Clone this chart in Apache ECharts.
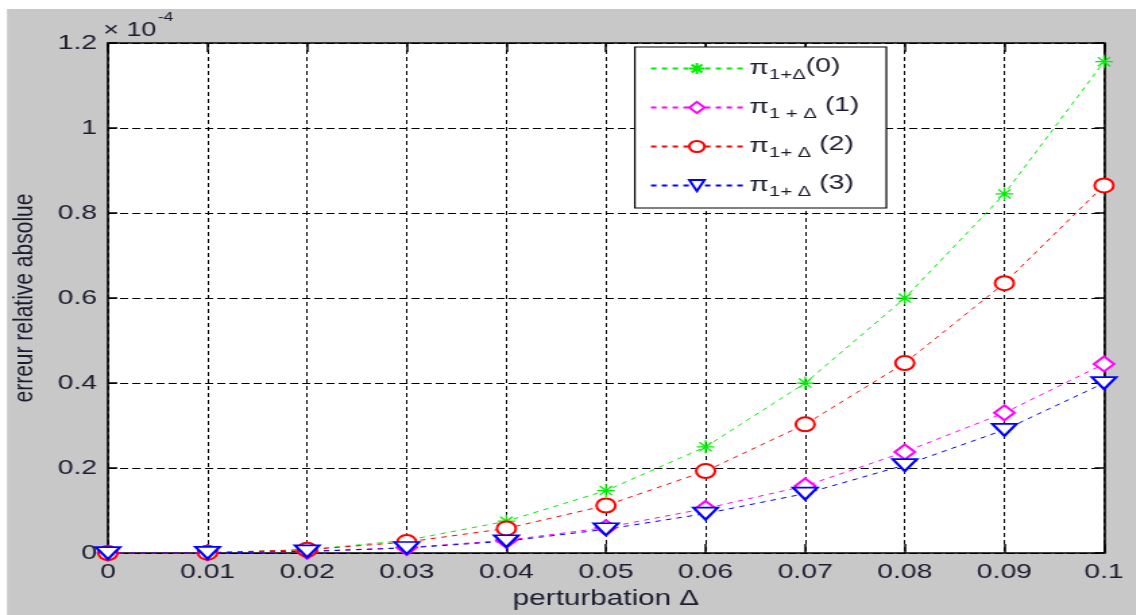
<!DOCTYPE html>
<html>
<head>
<meta charset="utf-8">
<script src="https://cdn.jsdelivr.net/npm/echarts@6/dist/echarts.min.js"></script>
<style>
html,body{margin:0;padding:0;background:#fff;overflow:hidden;width:1136px;height:615px;}
#wrap{width:1136px;height:615px;overflow:hidden;position:relative;}
#chart{width:842px;height:615px;transform:scaleX(1.349);transform-origin:0 0;position:absolute;left:0;top:0;}
</style>
</head>
<body>
<div id="wrap"><div id="chart"></div></div>
<script>
// Data (y values in units of 1e-4)
const xValues = [0, 0.01, 0.02, 0.03, 0.04, 0.05, 0.06, 0.07, 0.08, 0.09, 0.1];
const xTickLabels = ['0', '0.01', '0.02', '0.03', '0.04', '0.05', '0.06', '0.07', '0.08', '0.09', '0.1'];
const yTickLabels = ['0', '0.2', '0.4', '0.6', '0.8', '1', '1.2'];
const pi0 = [0, 0.001, 0.008, 0.03, 0.075, 0.147, 0.25, 0.40, 0.60, 0.845, 1.156];
const pi1 = [0, 0.0005, 0.004, 0.013, 0.03, 0.06, 0.105, 0.158, 0.238, 0.33, 0.445];
const pi2 = [0, 0.001, 0.008, 0.026, 0.058, 0.112, 0.193, 0.303, 0.447, 0.635, 0.865];
const pi3 = [0, 0.0005, 0.004, 0.012, 0.028, 0.056, 0.093, 0.14, 0.207, 0.29, 0.40];
const seriesNames = ['s0', 's1', 's2', 's3'];
const legendLabels = {
  s0: '{pi|π}{sub|1+Δ}{n|(0)}',
  s1: '{pi|π}{sub|1 + Δ}{n| (1)}',
  s2: '{pi|π}{sub|1+ Δ}{n| (2)}',
  s3: '{pi|π}{sub|1+ Δ}{n| (3)}'
};

const pair = arr => arr.map((v, i) => [xValues[i], v]);
const asterisk = 'path://M0,-6L0,6M-6,0L6,0M-4.2,-4.2L4.2,4.2M-4.2,4.2L4.2,-4.2';
const font = 'Liberation Sans, Arial, sans-serif';
const txt = '#1c1c30';

function mkSeries(name, data, color, symbol, size, rotate) {
  return {
    name: name, type: 'line', data: pair(data),
    symbol: symbol, symbolSize: size, symbolRotate: rotate || 0,
    showAllSymbol: true,
    lineStyle: { color: color, width: 1, type: [4, 4] },
    itemStyle: { color: color, borderColor: color, borderWidth: 1.3 },
    emphasis: { disabled: true },
    animation: false, clip: false, z: 3
  };
}

const chart = echarts.init(document.getElementById('chart'), null, { width: 842, height: 615 });
chart.setOption({
  backgroundColor: '#c8c8c8',
  animation: false,
  textStyle: { fontFamily: font },
  grid: { left: 77.1, top: 43, width: 741.3, height: 515, backgroundColor: '#fff', show: true, borderWidth: 0 },
  graphic: [
    { type: 'rect', left: 0, top: 0, shape: { width: 842, height: 9 }, style: { fill: '#fff' }, z: 100 },
    { type: 'rect', left: 0, top: 0, shape: { width: 5.2, height: 615 }, style: { fill: '#fff' }, z: 100 },
    { type: 'text', left: 76.5, top: 11, z: 100,
      style: { text: '{a|× 10}{b|-4}', fill: txt,
        rich: { a: { fontSize: 20, fontFamily: font, fill: txt, padding: [9, 0, 0, 0] },
                b: { fontSize: 13, fontFamily: font, fill: txt, verticalAlign: 'top', padding: [0, 0, 14, 1] } } } }
  ],
  xAxis: [{
    type: 'value', min: 0, max: 0.1, interval: 0.01,
    name: 'perturbation Δ', nameLocation: 'middle', nameGap: 32,
    nameTextStyle: { fontSize: 22, color: txt, fontFamily: font },
    axisLine: { show: true, onZero: false, lineStyle: { color: '#000', width: 1.6 } },
    axisTick: { show: true, inside: true, length: 9, lineStyle: { color: '#000', width: 1.5 } },
    axisLabel: { fontSize: 21, color: txt, margin: 9, fontFamily: font,
      formatter: v => xTickLabels[Math.round(v / 0.01)] },
    splitLine: { show: true, lineStyle: { color: '#000', width: 1, type: [4, 3] } }
  }, {
    type: 'value', position: 'top', min: 0, max: 0.1, interval: 0.01,
    axisLine: { show: true, onZero: false, lineStyle: { color: '#000', width: 1.6 } },
    axisTick: { show: true, inside: true, length: 9, lineStyle: { color: '#000', width: 1.5 } },
    axisLabel: { show: false }, splitLine: { show: false }
  }],
  yAxis: [{
    type: 'value', min: 0, max: 1.2, interval: 0.2,
    name: 'erreur relative absolue', nameLocation: 'middle', nameGap: 51, nameRotate: 90,
    nameTextStyle: { fontSize: 21, color: txt, fontFamily: font },
    axisLine: { show: true, onZero: false, lineStyle: { color: '#000', width: 1.6 } },
    axisTick: { show: true, inside: true, length: 7, lineStyle: { color: '#000', width: 1.5 } },
    axisLabel: { fontSize: 21, color: txt, margin: 8, fontFamily: font,
      formatter: v => yTickLabels[Math.round(v / 0.2)] },
    splitLine: { show: true, lineStyle: { color: '#000', width: 1, type: [6, 3] } }
  }, {
    type: 'value', position: 'right', min: 0, max: 1.2, interval: 0.2,
    axisLine: { show: true, onZero: false, lineStyle: { color: '#000', width: 1.6 } },
    axisTick: { show: true, inside: true, length: 7, lineStyle: { color: '#000', width: 1.5 } },
    axisLabel: { show: false }, splitLine: { show: false }
  }],
  legend: {
    orient: 'vertical', left: 470.6, top: 47, width: 160,
    backgroundColor: '#fff', borderColor: '#000', borderWidth: 1.2,
    padding: [9, 20, 9, 11], itemGap: 13, itemWidth: 68, itemHeight: 14,
    data: seriesNames,
    formatter: n => legendLabels[n],
    textStyle: {
      fontFamily: font, color: txt,
      rich: {
        pi: { fontSize: 21, fontFamily: font, color: txt },
        sub: { fontSize: 15, fontFamily: font, color: txt, padding: [12, 0, 0, 0] },
        n: { fontSize: 21, fontFamily: font, color: txt, padding: [0, 0, 4, 0] }
      }
    }
  },
  series: [
    mkSeries('s0', pi0, '#00ee00', asterisk, 13, 0),
    mkSeries('s1', pi1, '#ff00ff', 'emptyDiamond', 15, 0),
    mkSeries('s2', pi2, '#ff0000', 'emptyCircle', 14, 0),
    mkSeries('s3', pi3, '#0000ff', 'emptyTriangle', [18, 12], 180)
  ]
});
</script>
</body>
</html>
